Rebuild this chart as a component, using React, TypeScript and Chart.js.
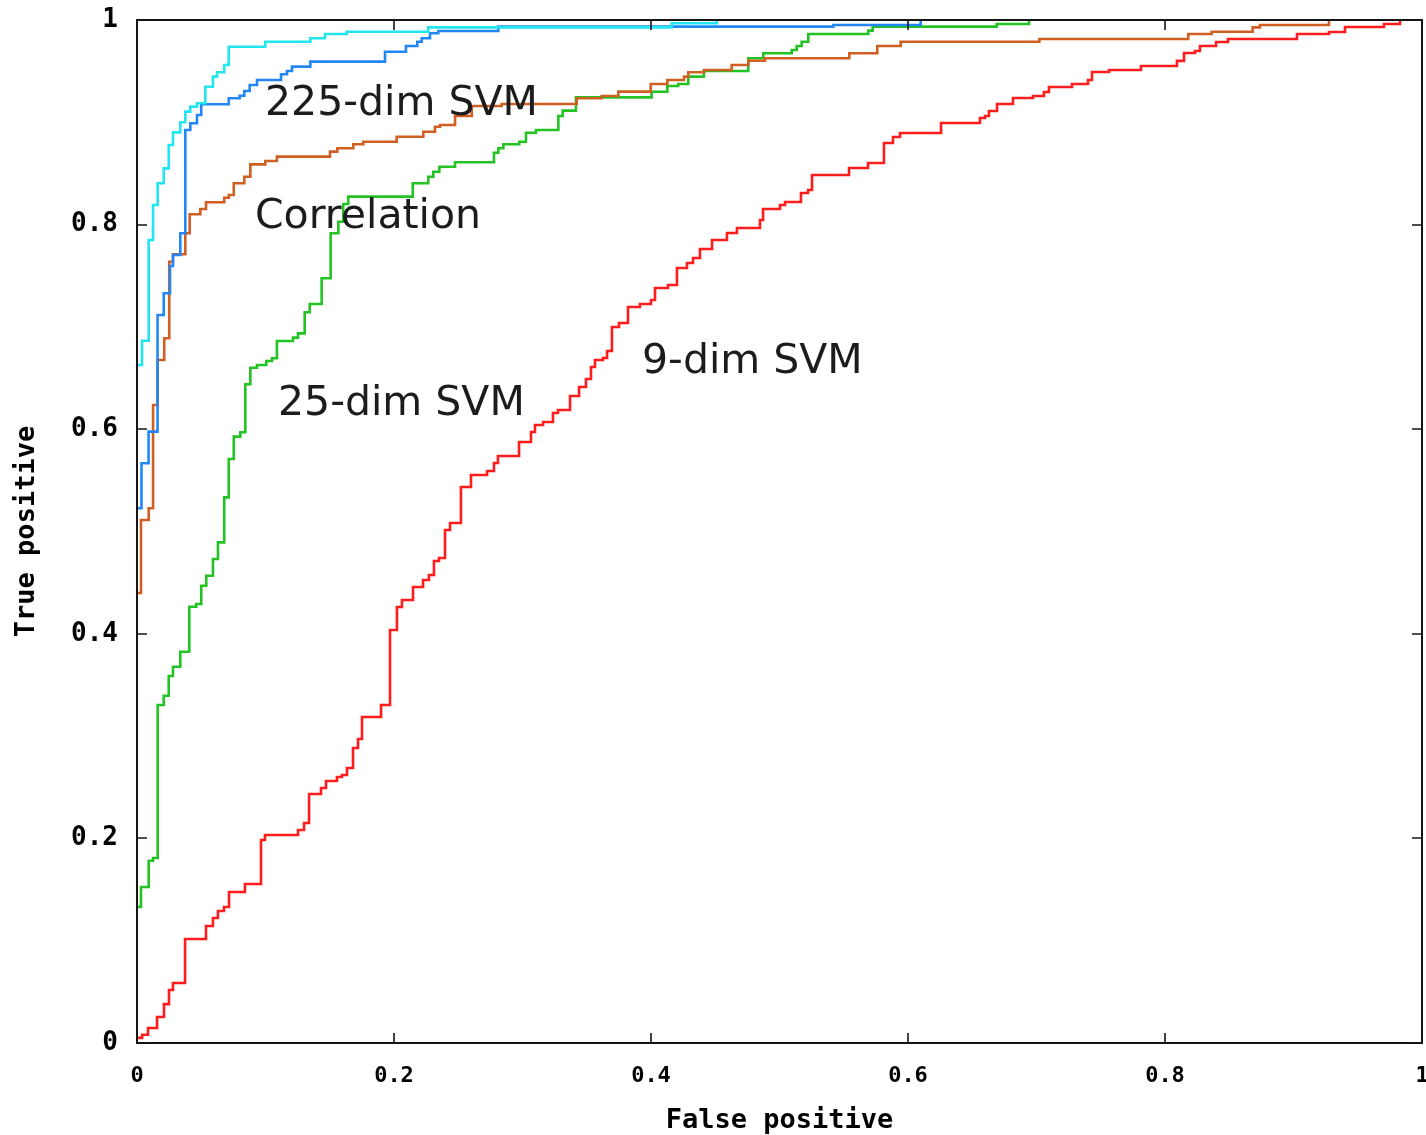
import React, { useEffect, useRef } from 'react';
import { Chart, registerables } from 'chart.js';

Chart.register(...registerables);

// ROC curves: each point is (false positive at a riser, true positive at the top of that riser)
const svm9X = [0, 0.004, 0.0086, 0.0156, 0.021, 0.0249, 0.028, 0.0374, 0.0537, 0.0591, 0.063, 0.0677, 0.0716, 0.084, 0.0965, 0.0996, 0.1253, 0.13, 0.1339, 0.1432, 0.1471, 0.1556, 0.1595, 0.1634, 0.1681, 0.172, 0.1751, 0.1899, 0.1969, 0.2023, 0.2062, 0.2148, 0.2226, 0.2272, 0.2311, 0.235, 0.2397, 0.2436, 0.2521, 0.2599, 0.2724, 0.2778, 0.2809, 0.2973, 0.3066, 0.3097, 0.316, 0.3237, 0.3276, 0.337, 0.344, 0.3494, 0.3533, 0.3564, 0.3626, 0.3658, 0.3696, 0.3751, 0.3821, 0.3914, 0.4, 0.4031, 0.4132, 0.4202, 0.428, 0.4327, 0.4381, 0.4475, 0.4591, 0.4669, 0.4848, 0.4872, 0.5004, 0.5043, 0.5167, 0.5222, 0.5253, 0.5541, 0.5689, 0.5813, 0.5883, 0.5938, 0.6257, 0.656, 0.6599, 0.663, 0.6693, 0.6817, 0.6973, 0.7058, 0.7097, 0.7276, 0.7401, 0.7432, 0.7564, 0.7813, 0.8093, 0.8148, 0.8233, 0.8272, 0.8397, 0.849, 0.9027, 0.9276, 0.9401, 0.9704, 0.9829];
const svm9Y = [0.005, 0.008, 0.0147, 0.0254, 0.038, 0.0518, 0.0587, 0.1017, 0.1144, 0.1222, 0.129, 0.133, 0.1476, 0.1554, 0.1984, 0.2033, 0.2082, 0.215, 0.2434, 0.2493, 0.2561, 0.26, 0.262, 0.2688, 0.2884, 0.2972, 0.3187, 0.3304, 0.4037, 0.4262, 0.433, 0.4457, 0.4526, 0.4575, 0.4712, 0.4741, 0.5015, 0.5083, 0.5435, 0.5552, 0.5591, 0.567, 0.5738, 0.5875, 0.5973, 0.6041, 0.607, 0.6158, 0.6188, 0.6325, 0.6413, 0.6491, 0.6608, 0.6676, 0.6696, 0.6764, 0.6999, 0.7038, 0.7195, 0.7224, 0.7263, 0.738, 0.741, 0.7576, 0.7625, 0.7674, 0.7761, 0.785, 0.7918, 0.7967, 0.8045, 0.8152, 0.8192, 0.8221, 0.8309, 0.8338, 0.8485, 0.8553, 0.8602, 0.8798, 0.8856, 0.8895, 0.8993, 0.9042, 0.9062, 0.911, 0.9179, 0.9238, 0.9257, 0.9296, 0.9345, 0.9374, 0.9413, 0.9492, 0.9511, 0.955, 0.96, 0.9677, 0.9697, 0.9746, 0.9785, 0.9814, 0.9863, 0.9883, 0.9932, 0.9961, 1.0];

const svm25X = [0, 0.0031, 0.0091, 0.0125, 0.0161, 0.0208, 0.0247, 0.028, 0.0337, 0.0407, 0.0461, 0.05, 0.0539, 0.0591, 0.063, 0.0679, 0.0714, 0.0753, 0.0804, 0.0843, 0.0882, 0.0934, 0.1006, 0.1051, 0.1089, 0.1214, 0.1253, 0.1305, 0.1344, 0.1437, 0.1507, 0.1567, 0.1605, 0.1644, 0.2146, 0.2267, 0.2306, 0.2353, 0.2475, 0.2778, 0.2812, 0.2851, 0.2975, 0.3027, 0.3105, 0.3279, 0.3313, 0.3416, 0.4005, 0.4127, 0.4212, 0.429, 0.4412, 0.4757, 0.4874, 0.5095, 0.5134, 0.5173, 0.5224, 0.5691, 0.5725, 0.669, 0.6942];
const svm25Y = [0.1329, 0.1525, 0.1782, 0.1808, 0.3304, 0.3395, 0.3587, 0.3678, 0.3825, 0.4265, 0.4291, 0.447, 0.4568, 0.4731, 0.4894, 0.5334, 0.5709, 0.5927, 0.597, 0.6439, 0.6601, 0.6628, 0.6667, 0.6693, 0.6862, 0.6895, 0.6937, 0.7143, 0.7224, 0.7475, 0.7915, 0.8028, 0.8201, 0.8273, 0.8404, 0.8468, 0.8517, 0.8566, 0.8609, 0.8703, 0.8746, 0.8785, 0.881, 0.8898, 0.8925, 0.9062, 0.9114, 0.9244, 0.9299, 0.9355, 0.9374, 0.9446, 0.9501, 0.9626, 0.9675, 0.9707, 0.9746, 0.9788, 0.9863, 0.9896, 0.9935, 0.9961, 1.0];

const corrX = [0, 0.0031, 0.0091, 0.0125, 0.0161, 0.0212, 0.0251, 0.028, 0.0376, 0.041, 0.0493, 0.0537, 0.0679, 0.0714, 0.0753, 0.0835, 0.0882, 0.0998, 0.1089, 0.1502, 0.1559, 0.1683, 0.1761, 0.2021, 0.2228, 0.2319, 0.2358, 0.2475, 0.2605, 0.2838, 0.3422, 0.3616, 0.3746, 0.3998, 0.4127, 0.4257, 0.429, 0.4412, 0.4628, 0.4757, 0.4887, 0.5543, 0.5761, 0.5943, 0.7022, 0.8181, 0.8363, 0.8682, 0.8739, 0.9276];
const corrY = [0.4399, 0.5112, 0.5227, 0.6237, 0.6676, 0.6889, 0.7637, 0.771, 0.7915, 0.8101, 0.8152, 0.8218, 0.8263, 0.829, 0.8404, 0.8468, 0.8589, 0.8622, 0.8664, 0.8713, 0.8746, 0.8785, 0.881, 0.8859, 0.8908, 0.8957, 0.8974, 0.9062, 0.9159, 0.9179, 0.9235, 0.9257, 0.93, 0.9374, 0.9413, 0.9446, 0.9489, 0.9511, 0.956, 0.9602, 0.9626, 0.9675, 0.9746, 0.9788, 0.9814, 0.9863, 0.9885, 0.9928, 0.9951, 1.0];

const svm225X = [0, 0.0035, 0.009, 0.016, 0.0208, 0.0257, 0.028, 0.0337, 0.0376, 0.0415, 0.0467, 0.05, 0.0714, 0.0799, 0.0835, 0.0877, 0.0934, 0.1121, 0.1167, 0.1206, 0.1349, 0.193, 0.2093, 0.2181, 0.2216, 0.228, 0.2345, 0.2812, 0.5419, 0.6099];
const svm225Y = [0.5227, 0.5667, 0.5976, 0.7116, 0.7329, 0.7595, 0.7703, 0.7915, 0.8925, 0.899, 0.9071, 0.9176, 0.9235, 0.926, 0.9306, 0.9365, 0.9413, 0.9469, 0.9502, 0.9544, 0.9593, 0.969, 0.9746, 0.9788, 0.9821, 0.987, 0.9892, 0.9935, 0.9951, 1.0];

const cyanX = [0, 0.0039, 0.0091, 0.0125, 0.0161, 0.0208, 0.0247, 0.028, 0.0337, 0.0376, 0.0415, 0.0467, 0.0532, 0.0591, 0.0623, 0.0679, 0.0714, 0.0998, 0.1349, 0.1463, 0.1632, 0.2267, 0.4161, 0.4511];
const cyanY = [0.6628, 0.6865, 0.785, 0.8192, 0.8404, 0.855, 0.8778, 0.8902, 0.9, 0.9104, 0.9153, 0.9186, 0.9348, 0.9446, 0.9489, 0.956, 0.9739, 0.9788, 0.9821, 0.9863, 0.9885, 0.9928, 0.9968, 1.0];

const curveLabels = [
  { text: '225-dim SVM', x: 0.0996, y: 0.9071 },
  { text: 'Correlation', x: 0.0918, y: 0.7967 },
  { text: '25-dim SVM', x: 0.1097, y: 0.6139 },
  { text: '9-dim SVM', x: 0.393, y: 0.655 },
];

const xTitle = 'False positive';
const yTitle = 'True positive';

const toPoints = (xs: number[], ys: number[]) => xs.map((x, i) => ({ x, y: ys[i] }));

const fmtTick = (v: number) => {
  if (Math.abs(v) < 1e-9) return '0';
  if (Math.abs(v - 1) < 1e-9) return '1';
  return v.toFixed(1);
};

const TICK = 10;

const framePlugin = {
  id: 'gnuplotFrame',
  afterDatasetsDraw(chart: any) {
    const { ctx, chartArea: a, scales } = chart;
    ctx.save();
    ctx.strokeStyle = '#151515';
    ctx.lineWidth = 2;
    ctx.strokeRect(a.left, a.top, a.right - a.left, a.bottom - a.top);
    ctx.lineWidth = 1.6;
    ctx.beginPath();
    for (const t of scales.x.ticks) {
      const px = Math.round(scales.x.getPixelForValue(t.value));
      ctx.moveTo(px, a.bottom);
      ctx.lineTo(px, a.bottom - TICK);
      ctx.moveTo(px, a.top);
      ctx.lineTo(px, a.top + TICK);
    }
    for (const t of scales.y.ticks) {
      const py = Math.round(scales.y.getPixelForValue(t.value));
      ctx.moveTo(a.left, py);
      ctx.lineTo(a.left + TICK, py);
      ctx.moveTo(a.right, py);
      ctx.lineTo(a.right - TICK, py);
    }
    ctx.stroke();
    ctx.font = '41px "DejaVu Sans"';
    ctx.fillStyle = '#1c1c1c';
    ctx.textAlign = 'left';
    ctx.textBaseline = 'alphabetic';
    for (const l of curveLabels) {
      ctx.fillText(l.text, scales.x.getPixelForValue(l.x), scales.y.getPixelForValue(l.y));
    }
    ctx.restore();
  },
};

export default function App() {
  const ref = useRef<HTMLCanvasElement | null>(null);
  useEffect(() => {
    document.body.style.margin = '0';
    document.body.style.background = '#ffffff';
    const canvas = ref.current;
    if (!canvas) return;
    const common = { pointRadius: 0, borderWidth: 2.6, stepped: 'before' as const, fill: false, tension: 0 };
    const chart = new Chart(canvas, {
      type: 'line',
      data: {
        datasets: [
          { ...common, label: '225-dim SVM (cyan)', data: toPoints(cyanX, cyanY), borderColor: '#22e6ee', order: 1 },
          { ...common, label: '225-dim SVM', data: toPoints(svm225X, svm225Y), borderColor: '#2287f4', order: 2 },
          { ...common, label: 'Correlation', data: toPoints(corrX, corrY), borderColor: '#cf5f22', order: 3 },
          { ...common, label: '25-dim SVM', data: toPoints(svm25X, svm25Y), borderColor: '#22c322', order: 4 },
          { ...common, label: '9-dim SVM', data: toPoints(svm9X, svm9Y), borderColor: '#ff1c1c', order: 5 },
        ],
      },
      options: {
        animation: false,
        responsive: false,
        devicePixelRatio: 1,
        layout: { padding: { top: 20, right: 4, left: 0, bottom: 0 } },
        plugins: { legend: { display: false }, tooltip: { enabled: false } },
        scales: {
          x: {
            type: 'linear',
            min: 0,
            max: 1,
            grid: { display: false, drawTicks: false },
            border: { display: false },
            ticks: {
              stepSize: 0.2,
              padding: 20,
              color: '#000',
              font: { family: 'DejaVu Sans Mono', weight: 'bold', size: 22 },
              callback: (v: any) => fmtTick(Number(v)),
              maxRotation: 0,
              autoSkip: false,
            },
            title: {
              display: true,
              text: xTitle,
              color: '#000',
              font: { family: 'DejaVu Sans Mono', weight: 'bold', size: 27, lineHeight: 1 },
              padding: { top: 0, bottom: 1 },
            },
            afterFit: (s: any) => {
              s.height = 92;
              s.paddingLeft = 0;
              s.paddingRight = 0;
            },
          },
          y: {
            type: 'linear',
            min: 0,
            max: 1,
            grid: { display: false, drawTicks: false },
            border: { display: false },
            ticks: {
              stepSize: 0.2,
              padding: 19,
              color: '#000',
              font: { family: 'DejaVu Sans Mono', weight: 'bold', size: 26 },
              callback: (v: any) => fmtTick(Number(v)),
              autoSkip: false,
            },
            title: {
              display: true,
              text: yTitle,
              color: '#000',
              font: { family: 'DejaVu Sans Mono', weight: 'bold', size: 27, lineHeight: 1 },
              padding: { top: 13, bottom: 0 },
            },
            afterFit: (s: any) => {
              s.width = 137;
              s.paddingTop = 0;
              s.paddingBottom = 0;
            },
          },
        },
      },
      plugins: [framePlugin],
    });
    return () => chart.destroy();
  }, []);
  return (
    <div style={{ width: 1426, height: 1135 }}>
      <canvas ref={ref} width={1426} height={1135} style={{ display: 'block' }} />
    </div>
  );
}
